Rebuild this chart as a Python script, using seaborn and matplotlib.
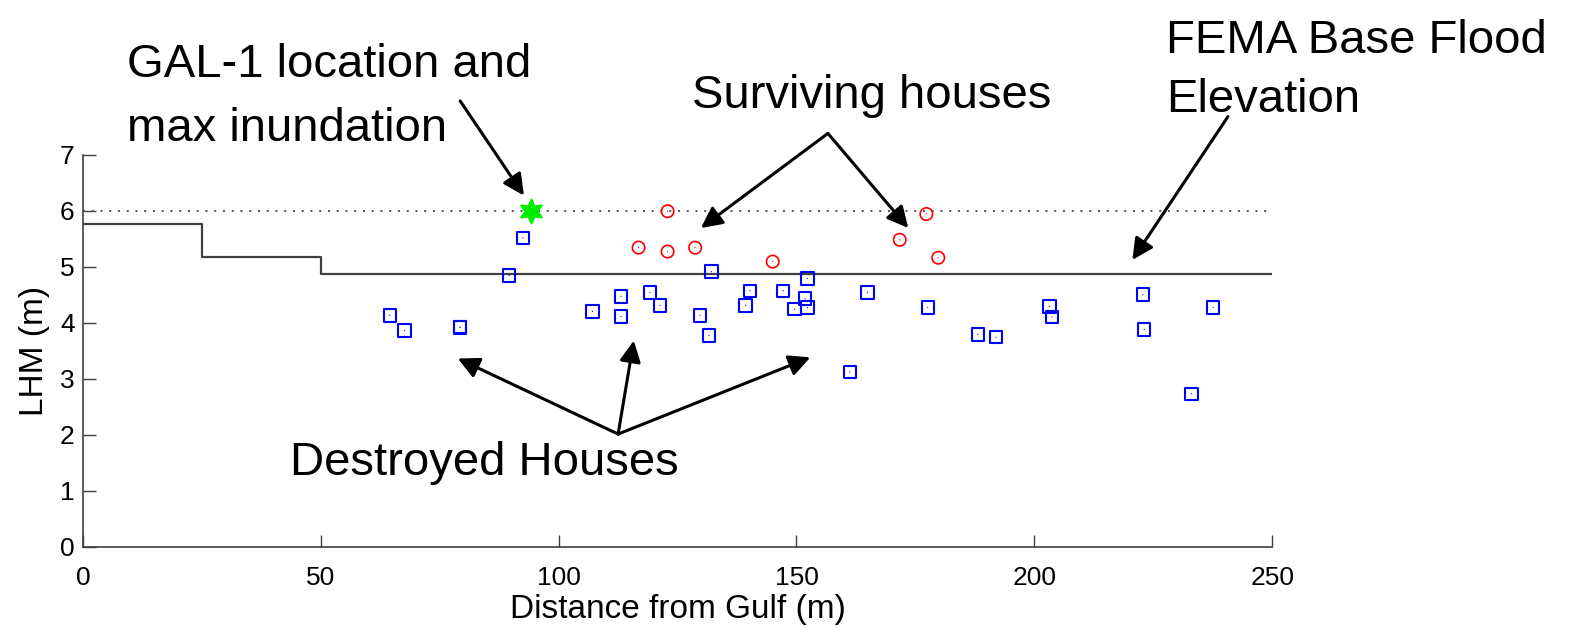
import numpy as np
import pandas as pd
import seaborn as sns
import matplotlib.pyplot as plt

# destroyed houses (blue squares)
destroyed_x = [64.5, 67.6, 79.3, 79.3, 89.6, 92.5, 107.1, 113.1, 113.1, 119.2, 121.3,
               129.7, 131.6, 132.1, 139.3, 140.2, 147.2, 149.6, 151.8, 152.3, 152.3,
               161.2, 164.9, 177.6, 188.1, 191.9, 203.2, 203.7, 222.8, 223.1, 233.0, 237.6]
destroyed_y = [4.13, 3.86, 3.91, 3.92, 4.84, 5.51, 4.20, 4.47, 4.11, 4.54, 4.31,
               4.13, 3.77, 4.91, 4.31, 4.57, 4.57, 4.24, 4.43, 4.27, 4.79,
               3.12, 4.54, 4.27, 3.79, 3.74, 4.29, 4.10, 4.50, 3.88, 2.73, 4.27]

# surviving houses (red circles)
surviving_x = [116.8, 122.9, 122.9, 128.7, 145.0, 171.7, 177.3, 179.8]
surviving_y = [5.34, 5.99, 5.27, 5.34, 5.09, 5.48, 5.94, 5.16]

# GAL-1 gauge
gal_x = [94.1]
gal_y = [6.0]

# FEMA base flood elevation (step)
fema_x = [0, 25, 50, 250]
fema_y = [5.77, 5.18, 4.87, 4.87]

max_inundation = 6.0

sns.set_style('ticks')
plt.rcParams['font.family'] = ['Liberation Sans', 'DejaVu Sans']
plt.rcParams['xtick.direction'] = 'in'
plt.rcParams['ytick.direction'] = 'in'
plt.rcParams['text.color'] = 'black'
plt.rcParams['axes.labelcolor'] = 'black'
plt.rcParams['xtick.labelcolor'] = 'black'
plt.rcParams['ytick.labelcolor'] = 'black'

fig = plt.figure(figsize=(15.71, 6.28), dpi=100)
ax = fig.add_axes([0.0528, 0.1296, 0.757, 0.6241])

df_d = pd.DataFrame({'x': destroyed_x, 'y': destroyed_y})
df_s = pd.DataFrame({'x': surviving_x, 'y': surviving_y})
df_f = pd.DataFrame({'x': fema_x, 'y': fema_y})

ax.axhline(max_inundation, color='#555555', lw=1.4, ls=(0, (1, 3.5)), zorder=1)
sns.lineplot(data=df_f, x='x', y='y', drawstyle='steps-post', color='#404040',
             lw=1.6, ax=ax, zorder=2)

sns.scatterplot(data=df_d, x='x', y='y', marker='s', s=80, facecolors='none',
                edgecolor='blue', linewidth=1.5, ax=ax, zorder=3)
sns.scatterplot(data=df_d, x='x', y='y', marker='.', s=3, color='blue',
                edgecolor='none', ax=ax, zorder=3)
sns.scatterplot(data=df_s, x='x', y='y', marker='o', s=80, facecolors='none',
                edgecolor='red', linewidth=1.2, ax=ax, zorder=3)
sns.scatterplot(data=df_s, x='x', y='y', marker='.', s=3, color='red',
                edgecolor='none', ax=ax, zorder=3)
sns.scatterplot(x=gal_x, y=gal_y, marker=(6, 1, 0), s=300, color='#00ee00',
                edgecolor='#00ee00', ax=ax, zorder=4)

ax.set_xlim(0, 250)
ax.set_ylim(0, 7)
ax.set_xticks([0, 50, 100, 150, 200, 250])
ax.set_yticks(range(0, 8))
ax.tick_params(labelsize=19, length=9, width=1, color='#404040')
ax.tick_params(axis='x', pad=14)
ax.tick_params(axis='y', pad=6)
for sp in ['left', 'bottom']:
    ax.spines[sp].set_color('#404040')
    ax.spines[sp].set_linewidth(1.2)
sns.despine(ax=ax)
ax.set_xlabel('Distance from Gulf (m)', fontsize=24, labelpad=3)
ax.set_ylabel('LHM (m)', fontsize=24, labelpad=7)

# annotations
arrow = dict(arrowstyle='-|>', mutation_scale=32, lw=2.2, color='black',
             shrinkA=0, shrinkB=0)

def arr(tail, head):
    ax.annotate('', xy=head, xytext=tail, arrowprops=arrow, annotation_clip=False)

arr((79.3, 7.96), (92.7, 6.27))
arr((156.6, 7.38), (129.9, 5.69))
arr((156.6, 7.38), (173.5, 5.69))
arr((240.7, 7.68), (220.6, 5.12))
arr((112.5, 2.01), (78.8, 3.36))
arr((112.5, 2.01), (115.8, 3.68))
arr((112.5, 2.01), (152.9, 3.38))

fs = 34
fig.text(127 / 1571, 1 - 77 / 628, 'GAL-1 location and', fontsize=fs, va='baseline')
fig.text(127 / 1571, 1 - 141 / 628, 'max inundation', fontsize=fs, va='baseline')
fig.text(692 / 1571, 1 - 108 / 628, 'Surviving houses', fontsize=fs, va='baseline')
fig.text(1166 / 1571, 1 - 53 / 628, 'FEMA Base Flood', fontsize=fs, va='baseline')
fig.text(1166 / 1571, 1 - 112 / 628, 'Elevation', fontsize=fs, va='baseline')
fig.text(290 / 1571, 1 - 475 / 628, 'Destroyed Houses', fontsize=fs, va='baseline')

fig.savefig('out.png', dpi=100)
